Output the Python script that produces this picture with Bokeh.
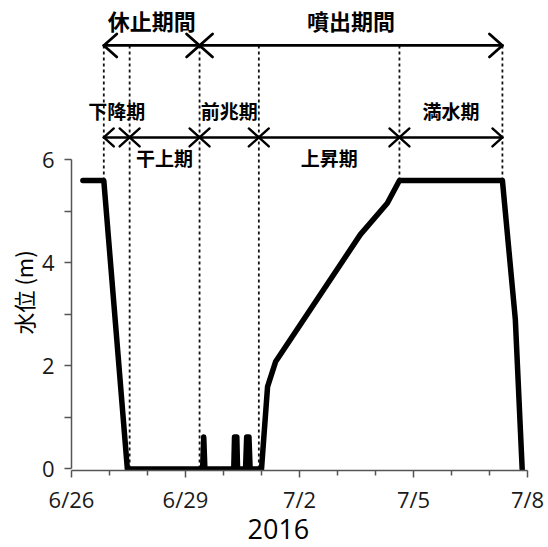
import numpy as np
from bokeh.plotting import figure
from bokeh.models import Range1d, FixedTicker, Title
from bokeh.embed import file_html
from bokeh.resources import INLINE
from bokeh.core.properties import value

# ---- data (time in days since 2016-06-26 00:00) ----
time_days = [0.30, 0.85, 1.47, 3.45, 3.48, 3.51, 4.27, 4.29, 4.35, 4.37,
             4.58, 4.61, 4.67, 4.70, 5.00, 5.16, 5.37, 7.60, 8.31, 8.63,
             11.34, 11.68, 11.86]
water_level = [5.6, 5.6, 0.0, 0.0, 0.62, 0.0, 0.0, 0.62, 0.62, 0.0,
               0.0, 0.62, 0.62, 0.0, 0.0, 1.6, 2.08, 4.55, 5.16, 5.6,
               5.6, 2.9, 0.0]

x_tick_days = [0, 3, 6, 9, 12]
x_tick_labels = ["6/26", "6/29", "7/2", "7/5", "7/8"]
x_minor_days = [1, 2, 4, 5, 7, 8, 10, 11]
y_ticks = [0, 2, 4, 6]
y_minor_ticks = [1, 3, 5]

major_period_names = ["休止期間", "噴出期間"]
major_period_start = [0.85, 3.37]
major_period_end = [3.37, 11.34]

minor_period_names = ["下降期", "干上期", "前兆期", "上昇期", "満水期"]
minor_period_start = [0.85, 1.53, 3.37, 4.93, 8.63]
minor_period_end = [1.53, 3.37, 4.93, 8.63, 11.34]
minor_label_above = [True, False, True, False, True]

phase_boundaries = [0.85, 1.53, 3.37, 4.93, 8.63, 11.34]

year_label = "2016"
y_label = "水位 (m)"

# ---- layout helpers ----
PX_X = 38.0      # px per day
PX_Y = 51.5      # px per metre
Y0_PX = 468.5    # pixel row of y = 0 (from top)

def ypx(px):
    return (Y0_PX - px) / PX_Y

JP = "Noto Sans CJK JP"

p = figure(width=548, height=547,
           x_range=Range1d(0, 12), y_range=Range1d(-0.03, 9.096),
           output_backend="svg", toolbar_location=None,
           min_border_left=71, min_border_right=21,
           min_border_top=0, min_border_bottom=77)
p.outline_line_color = None
p.grid.visible = False
p.background_fill_color = "white"
p.border_fill_color = "white"

# axes
xa = p.xaxis[0]
xa.ticker = FixedTicker(ticks=x_tick_days, minor_ticks=x_minor_days)
xa.major_label_overrides = {t: l for t, l in zip(x_tick_days, x_tick_labels)}
xa.bounds = (0, 12)
xa.minor_tick_out = 5
xa.major_label_standoff = 6
ya = p.yaxis[0]
ya.ticker = FixedTicker(ticks=y_ticks, minor_ticks=y_minor_ticks)
ya.bounds = (0, 6)
ya.minor_tick_out = 7
ya.major_label_standoff = 10
for ax in (xa, ya):
    ax.axis_line_color = "#555555"
    ax.axis_line_width = 1.5
    ax.major_tick_line_color = "#555555"
    ax.major_tick_line_width = 1.5
    ax.minor_tick_line_color = "#555555"
    ax.minor_tick_line_width = 1.5
    ax.major_tick_in = 0
    ax.major_tick_out = 7
    ax.minor_tick_in = 0
    ax.major_label_text_font = "Open Sans"
    ax.major_label_text_font_size = "22px"
    ax.major_label_text_color = "#1a1a1a"

# dashed phase boundaries
row1_y = ypx(45)
row2_y = ypx(137)
bottoms = np.interp(phase_boundaries, time_days, water_level)
p.segment(x0=phase_boundaries, y0=[row1_y] * len(phase_boundaries),
          x1=phase_boundaries, y1=list(bottoms),
          line_dash="3 3", line_width=1.8, line_color="#111111")

# water level line
p.line(time_days, water_level, line_width=5.5, line_color="black",
       line_join="round", line_cap="round")

# double-headed arrows
def arrows(starts, ends, y, hx_px, hy_px):
    hx, hy = hx_px / PX_X, hy_px / PX_Y
    xs, ys = [], []
    for a, b in zip(starts, ends):
        xs.append([a, b]); ys.append([y, y])
        xs.append([a + hx, a, a + hx]); ys.append([y + hy, y, y - hy])
        xs.append([b - hx, b, b - hx]); ys.append([y + hy, y, y - hy])
    return xs, ys

xs1, ys1 = arrows(major_period_start, major_period_end, row1_y, 13, 11.5)
p.multi_line(xs1, ys1, line_width=2.8, line_color="black",
             line_cap="round", line_join="round")
xs2, ys2 = arrows(minor_period_start, minor_period_end, row2_y, 10, 9)
p.multi_line(xs2, ys2, line_width=2.4, line_color="black",
             line_cap="round", line_join="round")

# period labels
mx1 = [(a + b) / 2 for a, b in zip(major_period_start, major_period_end)]
p.text(x=mx1, y=[ypx(20)] * len(mx1), text=major_period_names,
       text_font=value(JP), text_font_style="bold", text_font_size="22px",
       text_align="center", text_baseline="middle", text_color="black")
mx2 = [(a + b) / 2 for a, b in zip(minor_period_start, minor_period_end)]
my2 = [ypx(110) if up else ypx(157) for up in minor_label_above]
p.text(x=mx2, y=my2, text=minor_period_names,
       text_font=value(JP), text_font_style="bold", text_font_size="19px",
       text_align="center", text_baseline="middle", text_color="black")

# axis titles as side-panel titles (so they can be offset)
p.add_layout(Title(text=y_label, align="left", offset=136,
                   text_font=JP, text_font_size="22px",
                   text_font_style="normal", text_color="black",
                   standoff=0), "left")
p.add_layout(Title(text=year_label, align="left", offset=176,
                   text_font="Open Sans", text_font_size="27px",
                   text_font_style="normal", text_color="black",
                   standoff=0), "below")

open("out.html", "w").write(file_html(p, INLINE))
